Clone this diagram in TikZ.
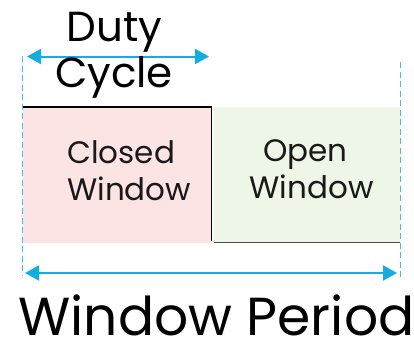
\documentclass[tikz,border=0pt]{standalone}
\usepackage{fontspec}
\setmainfont{Poppins}
\usetikzlibrary{arrows.meta}
\definecolor{arrowcyan}{HTML}{14ADE0}
\definecolor{dashcyan}{HTML}{45BDE6}
\definecolor{closedpink}{HTML}{FDE4E4}
\definecolor{opengreen}{HTML}{EEF6E7}
\definecolor{edgegray}{HTML}{4A4A4A}
\tikzset{
  dimarrow/.style={draw=arrowcyan, line width=2pt, {Triangle[length=14pt,width=15pt]}-{Triangle[length=14pt,width=15pt]}},
  guide/.style={draw=dashcyan, line width=1.6pt, dash pattern=on 6pt off 3.5pt},
  boxtext/.style={font=\fontsize{31}{36}\selectfont, text=black!90, anchor=base, inner sep=0pt},
  dutytext/.style={font=\fontsize{42}{46}\selectfont, anchor=base, inner sep=0pt},
  periodtext/.style={font=\fontsize{53.5}{60}\selectfont, anchor=base, inner sep=0pt},
}
\begin{document}
\begin{tikzpicture}[x=1pt,y=-1pt]
\useasboundingbox (0,0) rectangle (414,340);
% windows
\node[fill=closedpink, minimum width=188pt, minimum height=136pt, inner sep=0pt, anchor=north west] (closed) at (23,107) {};
\node[fill=opengreen, minimum width=186pt, minimum height=135pt, inner sep=0pt, anchor=north west] (open) at (214,107) {};
\draw[black, line width=1.2pt] (closed.north west) -- (closed.north east) -- ([yshift=2pt]closed.south east);
\draw[edgegray, line width=1.4pt] (open.south west) -- (open.south east);
% guides
\coordinate (lt) at (22.3,56);
\coordinate (lb) at (22.3,276);
\coordinate (rt) at (400.5,62);
\coordinate (rb) at (400.5,280);
\draw[guide] (lt) -- (lb);
\draw[guide] (rt) -- (rb);
% dimension arrows
\coordinate (d1) at (27,56.5);
\coordinate (d2) at (209,56.5);
\coordinate (p1) at (25,273);
\coordinate (p2) at (397,273);
\draw[dimarrow] (d1) -- (d2);
\draw[dimarrow] (p1) -- (p2);
% texts
\node[dutytext] (duty) at (114.5,41) {Duty};
\node[dutytext] (cycle) at (114,87) {Cycle};
\node[boxtext, anchor=base west] (closed1) at (67,163) {Closed};
\node[boxtext, anchor=base west] (closed2) at (67,200) {Window};
\node[boxtext] (open1) at (305.5,161) {Open};
\node[boxtext] (open2) at (311.5,198) {Window};
\node[periodtext] (period) at (216.5,335) {Window Period};
\end{tikzpicture}
\end{document}
